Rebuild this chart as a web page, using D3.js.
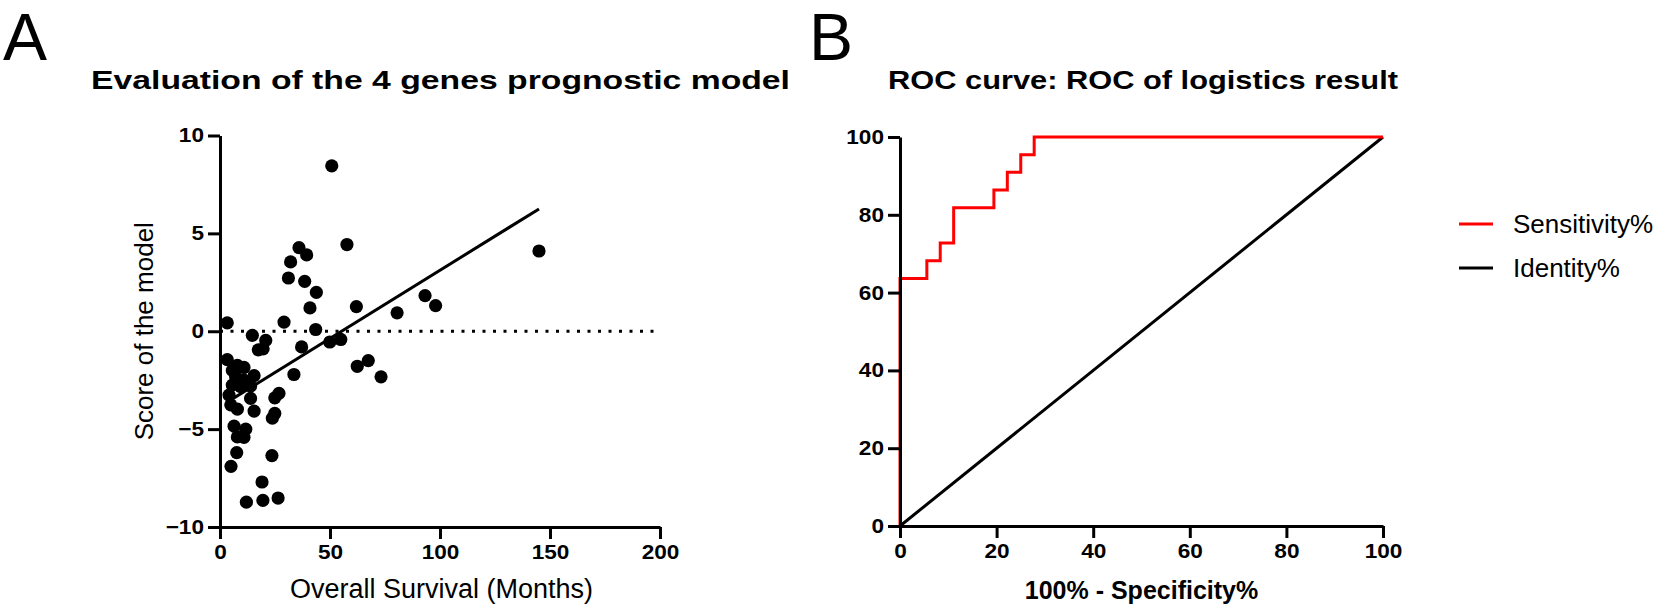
<!DOCTYPE html>
<html>
<head>
  <meta charset='utf-8'>
  <title>Prognostic model and ROC</title>
  <script src='https://cdn.jsdelivr.net/npm/d3@7/dist/d3.min.js'></script>
  <style>
    body { margin: 0; background: #fff; }
    text { font-family: 'Liberation Sans', Arial, sans-serif; fill: #000; }
  </style>
</head>
<body>
  <svg id='plot-area' width='1654' height='606'></svg>
  <script>
    // panel A: overall survival (months) vs model score
    const survivalMonths = [
      50.8, 57.7, 35.9, 39.4, 32.1, 31.1, 38.5, 43.8, 40.9, 62, 80.5, 93.2, 98, 145,
      3.3, 29.1, 43.5, 49.9, 54.9, 37.1, 62.4, 67.4, 73.2, 33.6,
      14.7, 20.8, 17.4, 19.6,
      3.3, 7.9, 10.9, 5.6, 7.1, 15.5, 10.9, 5.6, 9.4, 13.9, 4.1, 13.9, 26.8, 24.9,
      4.9, 7.9, 15.5, 24.9, 23.8, 6.4, 11.7, 7.9, 10.9,
      7.6, 5.0, 23.6, 19.1, 12.0, 19.5, 26.4
    ];
    const modelScore = [
      8.45, 4.43, 4.27, 3.90, 3.54, 2.72, 2.55, 1.99, 1.19, 1.26, 0.94, 1.82, 1.31, 4.10,
      0.43, 0.47, 0.09, -0.55, -0.42, -0.80, -1.79, -1.50, -2.33, -2.21,
      -0.21, -0.47, -0.95, -0.90,
      -1.45, -1.74, -1.85, -2.0, -2.33, -2.27, -2.5, -2.75, -2.83, -2.8, -3.26, -3.43, -3.17, -3.4,
      -3.76, -3.98, -4.08, -4.2, -4.44, -4.85, -5.0, -5.4, -5.42,
      -6.2, -6.9, -6.35, -7.7, -8.73, -8.64, -8.52
    ];
    // linear fit drawn over the data range
    const fitX = [3.3, 145];
    const fitY = [-3.62, 6.25];
    const xTicksA = [0, 50, 100, 150, 200];
    const yTicksA = [-10, -5, 0, 5, 10];

    // panel B: ROC steps (100% - specificity, sensitivity)
    const rocX = [0, 0, 5.56, 5.56, 8.33, 8.33, 11.11, 11.11, 19.44, 19.44, 22.22, 22.22, 25, 25, 27.78, 27.78, 100];
    const rocY = [0, 63.64, 63.64, 68.18, 68.18, 72.73, 72.73, 81.82, 81.82, 86.36, 86.36, 90.91, 90.91, 95.45, 95.45, 100, 100];
    const identityX = [0, 100];
    const identityY = [0, 100];
    const ticksB = [0, 20, 40, 60, 80, 100];
    const legendLabels = ['Sensitivity%', 'Identity%'];
    const legendColors = ['#ff0000', '#000000'];

    const svg = d3.select('#plot-area');

    // widen bold text a bit, the source font runs wider than Arial
    function stretch(sel, k) {
      sel.each(function () {
        const len = this.getComputedTextLength();
        d3.select(this).attr('textLength', len * k).attr('lengthAdjust', 'spacingAndGlyphs');
      });
    }

    function styleAxis(g) {
      g.select('.domain').attr('stroke', '#000').attr('stroke-width', 3);
      g.selectAll('.tick line').attr('stroke', '#000').attr('stroke-width', 3);
      g.selectAll('.tick text')
          .attr('font-family', "'Liberation Sans', Arial, sans-serif")
          .attr('font-size', 20)
          .attr('font-weight', 'bold')
          .attr('fill', '#000')
          .call(stretch, 1.13);
    }

    // ---------- panel A ----------
    const xA = d3.scaleLinear().domain([0, 200]).range([220, 660]);
    const yA = d3.scaleLinear().domain([-10, 10]).range([527, 135.5]);

    svg.append('text').attr('x', 3).attr('y', 60)
        .attr('font-size', 66).text('A');
    svg.append('text').attr('x', 440.5).attr('y', 89)
        .attr('text-anchor', 'middle').attr('font-size', 26).attr('font-weight', 'bold')
        .attr('textLength', 699).attr('lengthAdjust', 'spacingAndGlyphs')
        .text('Evaluation of the 4 genes prognostic model');

    svg.append('line')
        .attr('x1', xA(0)).attr('x2', xA(200))
        .attr('y1', yA(0)).attr('y2', yA(0))
        .attr('stroke', '#000').attr('stroke-width', 3)
        .attr('stroke-dasharray', '3 7.5');

    svg.append('g')
        .selectAll('circle')
        .data(d3.zip(survivalMonths, modelScore))
        .join('circle')
        .attr('cx', (d) => xA(d[0]))
        .attr('cy', (d) => yA(d[1]))
        .attr('r', 6.6)
        .attr('fill', '#000');

    svg.append('path')
        .datum(d3.zip(fitX, fitY))
        .attr('fill', 'none')
        .attr('stroke', '#000')
        .attr('stroke-width', 3)
        .attr('d', d3.line().x((d) => xA(d[0])).y((d) => yA(d[1])));

    svg.append('g')
        .attr('transform', `translate(0, ${yA(-10)})`)
        .call(d3.axisBottom(xA).tickValues(xTicksA).tickSize(12).tickSizeOuter(0).tickPadding(6))
        .call(styleAxis);
    svg.append('g')
        .attr('transform', `translate(${xA(0)}, 0)`)
        .call(d3.axisLeft(yA).tickValues(yTicksA).tickSize(12).tickSizeOuter(0).tickPadding(4))
        .call(styleAxis);

    svg.append('text').attr('x', 441.5).attr('y', 598)
        .attr('text-anchor', 'middle').attr('font-size', 27)
        .text('Overall Survival (Months)');
    svg.append('text')
        .attr('transform', `translate(153, ${yA(0)}) rotate(-90)`)
        .attr('text-anchor', 'middle').attr('font-size', 26)
        .text('Score of the model');

    // ---------- panel B ----------
    const xB = d3.scaleLinear().domain([0, 100]).range([900, 1383]);
    const yB = d3.scaleLinear().domain([0, 100]).range([526, 137]);

    svg.append('text').attr('x', 809).attr('y', 60)
        .attr('font-size', 66).text('B');
    svg.append('text').attr('x', 1143).attr('y', 89)
        .attr('text-anchor', 'middle').attr('font-size', 26).attr('font-weight', 'bold')
        .attr('textLength', 510).attr('lengthAdjust', 'spacingAndGlyphs')
        .text('ROC curve: ROC of logistics result');

    const lineB = d3.line().x((d) => xB(d[0])).y((d) => yB(d[1]));
    svg.append('path')
        .datum(d3.zip(identityX, identityY))
        .attr('fill', 'none').attr('stroke', '#000').attr('stroke-width', 3)
        .attr('d', lineB);
    svg.append('path')
        .datum(d3.zip(rocX, rocY))
        .attr('fill', 'none').attr('stroke', '#ff0000').attr('stroke-width', 3)
        .attr('d', lineB);

    svg.append('g')
        .attr('transform', `translate(0, ${yB(0)})`)
        .call(d3.axisBottom(xB).tickValues(ticksB).tickSize(12).tickSizeOuter(0).tickPadding(6))
        .call(styleAxis);
    svg.append('g')
        .attr('transform', `translate(${xB(0)}, 0)`)
        .call(d3.axisLeft(yB).tickValues(ticksB).tickSize(12).tickSizeOuter(0).tickPadding(4))
        .call(styleAxis);

    svg.append('text').attr('x', 1141.5).attr('y', 599)
        .attr('text-anchor', 'middle').attr('font-size', 25).attr('font-weight', 'bold')
        .text('100% - Specificity%');

    const legend = svg.append('g')
        .selectAll('g')
        .data(legendLabels)
        .join('g')
        .attr('transform', (d, i) => `translate(1459, ${224 + i * 44})`);
    legend.append('line')
        .attr('x1', 0).attr('x2', 34)
        .attr('stroke', (d, i) => legendColors[i]).attr('stroke-width', 3);
    legend.append('text')
        .attr('x', 54).attr('dy', '0.35em')
        .attr('font-size', 26)
        .text((d) => d);
  </script>
</body>
</html>
